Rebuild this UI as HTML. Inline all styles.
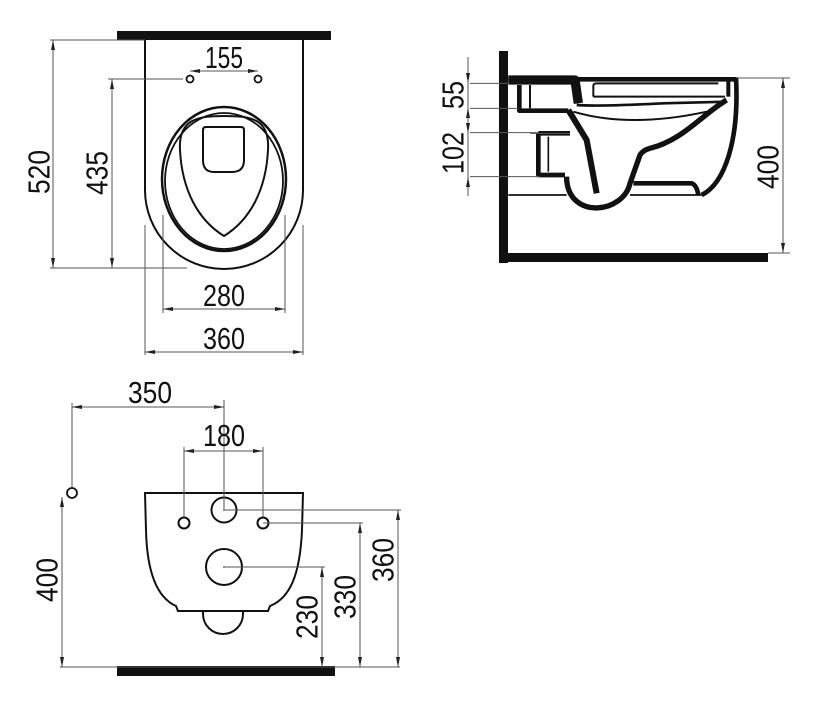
<!DOCTYPE html>
<html><head><meta charset="utf-8"><style>
html,body{margin:0;padding:0;background:#fff;}
svg{display:block;}
text{font-family:"Liberation Sans Narrow","Liberation Sans",sans-serif;font-size:31px;fill:#111;}
</style></head><body>
<svg width="822" height="719" viewBox="0 0 822 719" xmlns="http://www.w3.org/2000/svg">
<defs>
<marker id="a" viewBox="0 0 10 4" refX="10" refY="2" markerWidth="10" markerHeight="4" orient="auto-start-reverse" markerUnits="userSpaceOnUse"><path d="M0,0 L10,2 L0,4 Z" fill="#222"/></marker>
</defs>
<rect width="822" height="719" fill="#fff"/>

<!-- ===== TOP VIEW ===== -->
<rect x="117" y="31" width="214" height="9" fill="#111"/>
<path d="M145,40 L145,190 A79,79 0 0 0 303,190 L303,40" fill="none" stroke="#111" stroke-width="2"/>
<ellipse cx="224" cy="179" rx="62" ry="72" fill="none" stroke="#111" stroke-width="2.5"/>
<ellipse cx="224" cy="181" rx="59" ry="68" fill="none" stroke="#111" stroke-width="1.8"/>
<path d="M180,150 C178,118 200,116 224,116 C250,116 270,118 268,150 C266,190 250,220 224,236 C198,220 182,190 180,150 Z" fill="none" stroke="#111" stroke-width="2"/>
<path d="M206,127 L241,127 Q244,127 244,130 L244,160 Q244,172 232,172 L214,172 Q203,172 203,160 L203,130 Q203,127 206,127 Z" fill="none" stroke="#111" stroke-width="2"/>
<circle cx="190" cy="79" r="3.5" fill="none" stroke="#111" stroke-width="1.8"/>
<circle cx="258" cy="79" r="3.5" fill="none" stroke="#111" stroke-width="1.8"/>
<g stroke="#555" stroke-width="1" fill="none">
<line x1="190" y1="71" x2="258" y2="71" marker-start="url(#a)" marker-end="url(#a)"/>
<line x1="50" y1="40" x2="145" y2="40"/>
<line x1="50" y1="268" x2="187" y2="268"/>
<line x1="53" y1="40" x2="53" y2="268" marker-start="url(#a)" marker-end="url(#a)"/>
<line x1="108" y1="79" x2="183" y2="79"/>
<line x1="112" y1="79" x2="112" y2="268" marker-start="url(#a)" marker-end="url(#a)"/>
<line x1="163" y1="215" x2="163" y2="313"/>
<line x1="285" y1="215" x2="285" y2="313"/>
<line x1="163" y1="309" x2="285" y2="309" marker-start="url(#a)" marker-end="url(#a)"/>
<line x1="145" y1="225" x2="145" y2="355"/>
<line x1="303" y1="225" x2="303" y2="355"/>
<line x1="145" y1="352" x2="303" y2="352" marker-start="url(#a)" marker-end="url(#a)"/>
</g>
<text x="224" y="68" text-anchor="middle" textLength="38" lengthAdjust="spacingAndGlyphs">155</text>
<text x="224" y="306" text-anchor="middle" textLength="42" lengthAdjust="spacingAndGlyphs">280</text>
<text x="224" y="349" text-anchor="middle" textLength="42" lengthAdjust="spacingAndGlyphs">360</text>
<text transform="translate(39,172) rotate(-90)" text-anchor="middle" dominant-baseline="central" textLength="44" lengthAdjust="spacingAndGlyphs">520</text>
<text transform="translate(97,173) rotate(-90)" text-anchor="middle" dominant-baseline="central" textLength="44" lengthAdjust="spacingAndGlyphs">435</text>

<!-- ===== SIDE VIEW ===== -->
<rect x="499" y="51" width="9" height="212" fill="#111"/>
<rect x="499" y="253" width="269" height="9" fill="#111"/>
<g transform="translate(430,40) scale(0.33333)" fill="none" stroke="#111" stroke-linejoin="round">
<path d="M235,118 L918,118" stroke-width="14"/>
<path d="M918,112 C928,300 885,430 815,465" stroke-width="14"/>
<path d="M895,118 L895,170" stroke-width="12"/>
<path d="M235,120 L435,120 L445,190" stroke-width="28"/>
<path d="M268,135 L268,212 L415,212" stroke-width="14"/>
<path d="M300,135 L300,205" stroke-width="6"/>
<path d="M490,170 L490,138 Q490,130 500,130 L865,130" stroke-width="6"/>
<path d="M490,170 L885,170" stroke-width="6"/>
<path d="M440,195 Q500,200 700,190 L890,185" stroke-width="8"/>
<path d="M430,215 Q600,265 830,215" stroke-width="6"/>
<path d="M890,180 C820,220 760,300 660,325 Q640,330 630,345 L600,430 C580,520 420,540 410,420 L410,410" stroke-width="16"/>
<path d="M415,210 L470,300 L500,460" stroke-width="18"/>
<path d="M325,280 L420,280" stroke-width="14"/>
<path d="M325,280 L325,405 L405,405" stroke-width="14"/>
<path d="M355,290 L355,395" stroke-width="5"/>
<path d="M610,430 L785,430 Q800,435 805,465" stroke-width="14"/>
<path d="M235,465 L410,465 M600,465 L815,465" stroke-width="5"/>
<path d="M300,280 L420,280 M120,410 L330,410 M120,278 L325,278 M120,205 L265,205 M120,130 L235,130" stroke="#555" stroke-width="3"/>
</g>
<g stroke="#555" stroke-width="1" fill="none">
<line x1="468" y1="57" x2="468" y2="83" marker-end="url(#a)"/>
<line x1="468" y1="108" x2="468" y2="133" marker-start="url(#a)" marker-end="url(#a)"/>
<line x1="468" y1="177" x2="468" y2="196" marker-start="url(#a)"/>
<line x1="468" y1="83" x2="468" y2="108"/>
<line x1="468" y1="133" x2="468" y2="177"/>
<line x1="737" y1="78" x2="790" y2="78"/>
<line x1="768" y1="253" x2="790" y2="253"/>
<line x1="783" y1="78" x2="783" y2="253" marker-start="url(#a)" marker-end="url(#a)"/>
</g>
<text transform="translate(453,95) rotate(-90)" text-anchor="middle" dominant-baseline="central" textLength="28" lengthAdjust="spacingAndGlyphs">55</text>
<text transform="translate(453,153) rotate(-90)" text-anchor="middle" dominant-baseline="central" textLength="42" lengthAdjust="spacingAndGlyphs">102</text>
<text transform="translate(768,167) rotate(-90)" text-anchor="middle" dominant-baseline="central" textLength="44" lengthAdjust="spacingAndGlyphs">400</text>

<!-- ===== FRONT VIEW ===== -->
<rect x="117" y="666" width="218" height="10" fill="#111"/>
<path d="M145,493 L303,493 L302,530 C300,575 290,598 270,606 L268,611 L178,611 L176,606 C158,598 147,575 146,530 Z" fill="none" stroke="#111" stroke-width="2"/>
<path d="M203,612 L203,614 A20,20 0 0 0 243,614 L243,612" fill="none" stroke="#111" stroke-width="2"/>
<circle cx="224" cy="510" r="12.5" fill="none" stroke="#111" stroke-width="2"/>
<circle cx="184" cy="523" r="5.5" fill="none" stroke="#111" stroke-width="2"/>
<circle cx="263" cy="523" r="5.5" fill="none" stroke="#111" stroke-width="2"/>
<circle cx="224" cy="567" r="18" fill="none" stroke="#111" stroke-width="2"/>
<circle cx="72" cy="493" r="5" fill="none" stroke="#111" stroke-width="1.8"/>
<circle cx="224" cy="510" r="0.8" fill="#111"/>
<circle cx="224" cy="567" r="0.8" fill="#111"/>
<g stroke="#555" stroke-width="1" fill="none">
<line x1="72" y1="407" x2="224" y2="407" marker-start="url(#a)" marker-end="url(#a)"/>
<line x1="72" y1="403" x2="72" y2="487"/>
<line x1="224" y1="400" x2="224" y2="510"/>
<line x1="184" y1="451" x2="263" y2="451" marker-start="url(#a)" marker-end="url(#a)"/>
<line x1="184" y1="447" x2="184" y2="517"/>
<line x1="263" y1="447" x2="263" y2="517"/>
<line x1="62" y1="497" x2="62" y2="667" marker-start="url(#a)" marker-end="url(#a)"/>
<line x1="60" y1="667" x2="400" y2="667"/>
<line x1="224" y1="567" x2="325" y2="567"/>
<line x1="322" y1="567" x2="322" y2="667" marker-start="url(#a)" marker-end="url(#a)"/>
<line x1="263" y1="523" x2="363" y2="523"/>
<line x1="360" y1="523" x2="360" y2="667" marker-start="url(#a)" marker-end="url(#a)"/>
<line x1="224" y1="510" x2="401" y2="510"/>
<line x1="398" y1="510" x2="398" y2="667" marker-start="url(#a)" marker-end="url(#a)"/>
</g>
<text x="150" y="403" text-anchor="middle" textLength="44" lengthAdjust="spacingAndGlyphs">350</text>
<text x="224" y="446" text-anchor="middle" textLength="42" lengthAdjust="spacingAndGlyphs">180</text>
<text transform="translate(47,580) rotate(-90)" text-anchor="middle" dominant-baseline="central" textLength="44" lengthAdjust="spacingAndGlyphs">400</text>
<text transform="translate(307,617) rotate(-90)" text-anchor="middle" dominant-baseline="central" textLength="44" lengthAdjust="spacingAndGlyphs">230</text>
<text transform="translate(345,597) rotate(-90)" text-anchor="middle" dominant-baseline="central" textLength="44" lengthAdjust="spacingAndGlyphs">330</text>
<text transform="translate(383,560) rotate(-90)" text-anchor="middle" dominant-baseline="central" textLength="44" lengthAdjust="spacingAndGlyphs">360</text>
</svg>
</body></html>
